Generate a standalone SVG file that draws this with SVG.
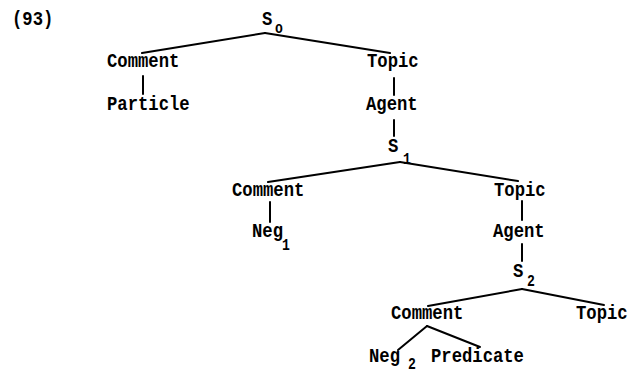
<svg xmlns="http://www.w3.org/2000/svg" width="632" height="373" viewBox="0 0 632 373">
<style>
text{font-family:"Liberation Mono","DejaVu Sans Mono",monospace;font-size:21px;font-weight:bold;letter-spacing:0;fill:#000}
.sub{font-size:16px}
.c line{stroke:#000;stroke-width:2;stroke-linecap:round}
</style>
<rect width="632" height="373" fill="#fff"/>
<g class="c" id="connectors">
<line x1="265" y1="33" x2="142" y2="53"/>
<line x1="265" y1="33" x2="390" y2="53"/>
<line x1="143" y1="76" x2="143" y2="94"/>
<line x1="394" y1="78" x2="394" y2="95"/>
<line x1="394" y1="120" x2="394" y2="136"/>
<line x1="400" y1="162" x2="268" y2="182"/>
<line x1="400" y1="162" x2="518" y2="181"/>
<line x1="270" y1="202" x2="270" y2="222"/>
<line x1="522" y1="201" x2="522" y2="220"/>
<line x1="522" y1="244" x2="522" y2="261"/>
<line x1="522" y1="289" x2="428" y2="306"/>
<line x1="522" y1="289" x2="604" y2="305"/>
<line x1="427" y1="326" x2="398" y2="350"/>
<line x1="427" y1="326" x2="480" y2="347"/>
</g>
<g id="label93"><text transform="translate(12,25) scale(0.82,1)">(93)</text></g>
<g id="S0"><text transform="translate(262,25) scale(0.82,1)">S</text><text class="sub" transform="translate(275,33) scale(0.82,1)">o</text></g>
<g id="comment1"><text transform="translate(107,67) scale(0.82,1)">Comment</text></g>
<g id="particle"><text transform="translate(107,110) scale(0.82,1)">Particle</text></g>
<g id="topic1"><text transform="translate(367,67) scale(0.82,1)">Topic</text></g>
<g id="agent1"><text transform="translate(366,110) scale(0.82,1)">Agent</text></g>
<g id="S1"><text transform="translate(388,152) scale(0.82,1)">S</text><text class="sub" transform="translate(403,164) scale(0.82,1)">1</text></g>
<g id="comment2"><text transform="translate(232,196) scale(0.82,1)">Comment</text></g>
<g id="neg1"><text transform="translate(252,237) scale(0.82,1)">Neg</text><text class="sub" transform="translate(282,250) scale(0.82,1)">1</text></g>
<g id="topic2"><text transform="translate(494,196) scale(0.82,1)">Topic</text></g>
<g id="agent2"><text transform="translate(493,237) scale(0.82,1)">Agent</text></g>
<g id="S2"><text transform="translate(513,277) scale(0.82,1)">S</text><text class="sub" transform="translate(527,286) scale(0.82,1)">2</text></g>
<g id="comment3"><text transform="translate(391,319) scale(0.82,1)">Comment</text></g>
<g id="topic3"><text transform="translate(576,319) scale(0.82,1)">Topic</text></g>
<g id="neg2"><text transform="translate(369,362) scale(0.82,1)">Neg</text><text class="sub" transform="translate(408,369) scale(0.82,1)">2</text></g>
<g id="predicate"><text transform="translate(431,362) scale(0.82,1)">Predicate</text></g>
</svg>
